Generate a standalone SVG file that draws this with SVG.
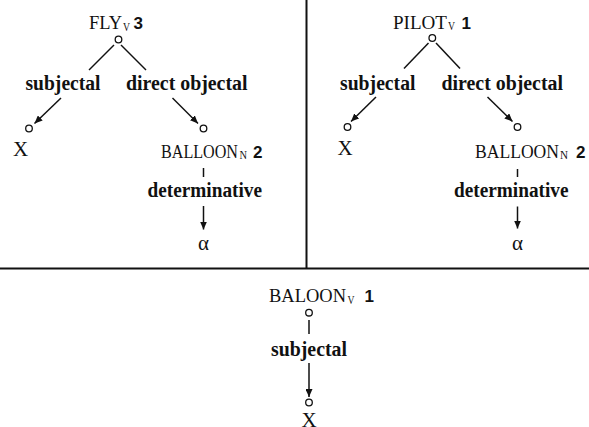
<svg xmlns="http://www.w3.org/2000/svg" width="589" height="427" viewBox="0 0 589 427">
<style>
.n{font-family:"Liberation Serif","Times New Roman",serif;font-size:19.5px;fill:#111}
.sub{font-family:"Liberation Serif","Times New Roman",serif;font-size:12px;fill:#111}
.num{font-family:"Liberation Sans",Arial,sans-serif;font-size:17px;font-weight:bold;fill:#111}
.lab{font-family:"Liberation Serif","Times New Roman",serif;font-size:20px;font-weight:bold;fill:#111}
.big{font-family:"Liberation Serif","Times New Roman",serif;font-size:21px;fill:#111}
.c{fill:#fff;stroke:#111;stroke-width:1.3}
.l{stroke:#111;stroke-width:1.5;fill:none}
.a{stroke:#111;stroke-width:1.5;fill:none;marker-end:url(#ah)}
.frame{stroke:#111;stroke-width:2}
</style>
<defs>
<marker id="ah" markerUnits="userSpaceOnUse" markerWidth="9" markerHeight="7" refX="8" refY="3.5" orient="auto">
<path d="M0,0 L8,3.5 L0,7 z" fill="#111"/>
</marker>
</defs>
<rect width="589" height="427" fill="#fff"/>
<g id="frame">
<line class="frame" x1="306.5" y1="0" x2="306.5" y2="268"/>
<line class="frame" x1="0" y1="268.5" x2="589" y2="268.5"/>
</g>
<g id="connectors">
<line class="l" x1="114" y1="45" x2="89" y2="70"/>
<line class="l" x1="121" y1="45" x2="146" y2="70"/>
<line class="a" x1="61" y1="98" x2="34.5" y2="123.5"/>
<line class="a" x1="172.5" y1="98" x2="198" y2="123.5"/>
<line class="l" x1="203.5" y1="168" x2="203.5" y2="177"/>
<line class="a" x1="203.5" y1="206" x2="203.5" y2="229.5"/>
<line class="l" x1="428.5" y1="43" x2="404" y2="68.5"/>
<line class="l" x1="436" y1="43" x2="460" y2="68.5"/>
<line class="a" x1="376" y1="97" x2="351" y2="121.5"/>
<line class="a" x1="487.5" y1="97" x2="512.5" y2="121.5"/>
<line class="l" x1="517.5" y1="169" x2="517.5" y2="177"/>
<line class="a" x1="517.5" y1="206.5" x2="517.5" y2="228.5"/>
<line class="l" x1="309" y1="320" x2="309" y2="334"/>
<line class="a" x1="309" y1="363" x2="309" y2="397"/>
</g>
<g id="node-fly">
<text class="n" x="89" y="29" textLength="33" lengthAdjust="spacingAndGlyphs">FLY</text>
<text class="sub" x="123" y="30.5" textLength="7" lengthAdjust="spacingAndGlyphs">V</text>
<text class="num" x="133.5" y="29">3</text>
<circle class="c" cx="118.5" cy="39.5" r="3.3"/>
</g>
<g id="label-subj-1"><text class="lab" x="25.5" y="90" textLength="75" lengthAdjust="spacingAndGlyphs">subjectal</text></g>
<g id="label-dobj-1"><text class="lab" x="126" y="90" textLength="121.5" lengthAdjust="spacingAndGlyphs">direct objectal</text></g>
<g id="node-x-1">
<circle class="c" cx="29" cy="128.5" r="3.3"/>
<text class="big" x="13" y="156">X</text>
</g>
<g id="node-balloon-1">
<circle class="c" cx="203.5" cy="128.5" r="3.3"/>
<text class="n" x="161" y="157.5" textLength="77" lengthAdjust="spacingAndGlyphs">BALLOON</text>
<text class="sub" x="239.5" y="159" textLength="7.5" lengthAdjust="spacingAndGlyphs">N</text>
<text class="num" x="253" y="157.5">2</text>
</g>
<g id="label-det-1"><text class="lab" x="147.5" y="197" textLength="114.5" lengthAdjust="spacingAndGlyphs">determinative</text></g>
<g id="node-alpha-1"><text class="big" x="203.5" y="250" text-anchor="middle">α</text></g>
<g id="node-pilot">
<text class="n" x="393" y="28.5" textLength="54" lengthAdjust="spacingAndGlyphs">PILOT</text>
<text class="sub" x="448" y="30" textLength="7" lengthAdjust="spacingAndGlyphs">V</text>
<text class="num" x="461.5" y="28.5">1</text>
<circle class="c" cx="432.3" cy="38" r="3.3"/>
</g>
<g id="label-subj-2"><text class="lab" x="340" y="89.5" textLength="75.5" lengthAdjust="spacingAndGlyphs">subjectal</text></g>
<g id="label-dobj-2"><text class="lab" x="441.5" y="89.5" textLength="121.5" lengthAdjust="spacingAndGlyphs">direct objectal</text></g>
<g id="node-x-2">
<circle class="c" cx="347.5" cy="127" r="3.3"/>
<text class="big" x="337.5" y="155">X</text>
</g>
<g id="node-balloon-2">
<circle class="c" cx="517.5" cy="127" r="3.3"/>
<text class="n" x="475" y="157.5" textLength="84" lengthAdjust="spacingAndGlyphs">BALLOON</text>
<text class="sub" x="560" y="159" textLength="8" lengthAdjust="spacingAndGlyphs">N</text>
<text class="num" x="576" y="157.5">2</text>
</g>
<g id="label-det-2"><text class="lab" x="454" y="197" textLength="114.5" lengthAdjust="spacingAndGlyphs">determinative</text></g>
<g id="node-alpha-2"><text class="big" x="517.5" y="250" text-anchor="middle">α</text></g>
<g id="node-baloon">
<text class="n" x="269" y="302" textLength="77" lengthAdjust="spacingAndGlyphs">BALOON</text>
<text class="sub" x="347.5" y="303.5" textLength="7" lengthAdjust="spacingAndGlyphs">V</text>
<text class="num" x="364.5" y="302">1</text>
<circle class="c" cx="309" cy="312.7" r="3.3"/>
</g>
<g id="label-subj-3"><text class="lab" x="271" y="356" textLength="76" lengthAdjust="spacingAndGlyphs">subjectal</text></g>
<g id="node-x-3">
<circle class="c" cx="309" cy="402.5" r="3.3"/>
<text class="big" x="309" y="426.5" text-anchor="middle">X</text>
</g>
</svg>
